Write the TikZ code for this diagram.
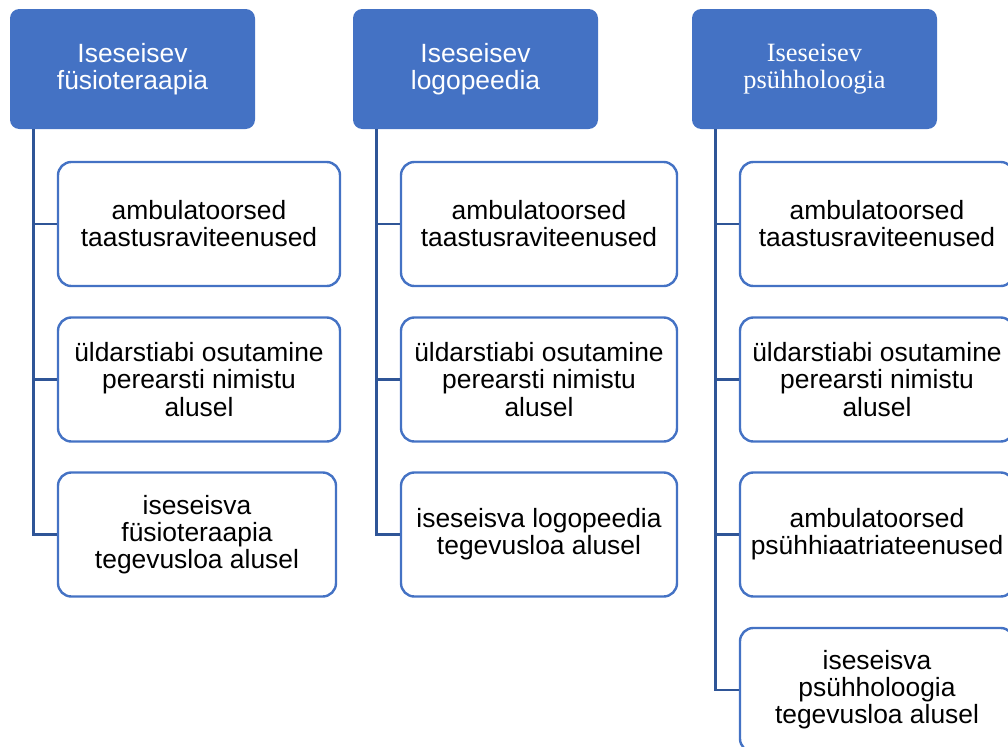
\documentclass[tikz,border=0pt]{standalone}
\usepackage{fontspec}
\setmainfont{Liberation Sans}
\newfontfamily\timesfont{Liberation Serif}
\definecolor{boxblue}{HTML}{4472C4}
\definecolor{lineblue}{HTML}{2F5597}

\begin{document}
\begin{tikzpicture}[x=0.75pt,y=-0.75pt,
  head node/.style={fill=boxblue,rounded corners=7pt,text=white,align=center,
    minimum width=183.75pt,minimum height=90pt,inner sep=0pt,
    font=\fontsize{19.8}{20.3}\selectfont},
  leaf node/.style={draw=boxblue,line width=1.8pt,fill=white,rounded corners=10pt,
    align=center,minimum height=93pt,inner sep=0pt,
    font=\fontsize{19.8}{20.3}\selectfont},
  link/.style={draw=lineblue,line width=2pt}]
  \useasboundingbox (0,0) rectangle (1008,747);
  \clip (0,0) rectangle (1008,747);
  \node[head node]  (10) at (132.5,69)  {Iseseisev\\füsioteraapia};
  \node[head node]  (20) at (475.5,69)  {Iseseisev\\logopeedia};
  \node[head node]  (30) at (814.5,69)  {\timesfont Iseseisev\\\timesfont psühholoogia};
  \node[leaf node,minimum width=211.5pt] (11) at (199,224)   {ambulatoorsed\\taastusraviteenused};
  \node[leaf node,minimum width=211.5pt] (12) at (199,379.5) {üldarstiabi osutamine\\perearsti nimistu\\alusel};
  \node[leaf node,minimum width=208.5pt] (13) at (197,534.5) {iseseisva\\füsioteraapia\\tegevusloa alusel};
  \node[leaf node,minimum width=207pt]   (21) at (539,224)   {ambulatoorsed\\taastusraviteenused};
  \node[leaf node,minimum width=207pt]   (22) at (539,379.5) {üldarstiabi osutamine\\perearsti nimistu\\alusel};
  \node[leaf node,minimum width=207pt]   (23) at (539,534.5) {iseseisva logopeedia\\tegevusloa alusel};
  \node[leaf node,minimum width=205.5pt] (31) at (877,224)   {ambulatoorsed\\taastusraviteenused};
  \node[leaf node,minimum width=205.5pt] (32) at (877,379.5) {üldarstiabi osutamine\\perearsti nimistu\\alusel};
  \node[leaf node,minimum width=205.5pt] (33) at (877,534.5) {ambulatoorsed\\psühhiaatriateenused};
  \node[leaf node,minimum width=205.5pt] (34) at (877,690)   {iseseisva\\psühholoogia\\tegevusloa alusel};
  \foreach \c in {11,12,13}
    \draw[link] ([xshift=18pt]10.south west) |- (\c.west);
  \foreach \c in {21,22,23}
    \draw[link] ([xshift=18pt]20.south west) |- (\c.west);
  \foreach \c in {31,32,33,34}
    \draw[link] ([xshift=18pt]30.south west) |- (\c.west);
\end{tikzpicture}
\end{document}
